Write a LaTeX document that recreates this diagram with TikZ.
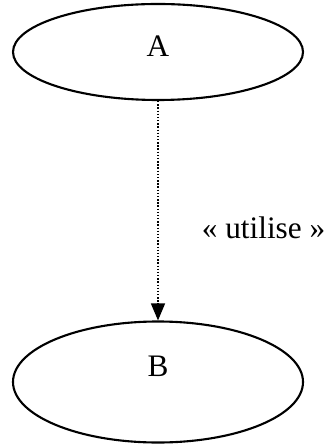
\documentclass[tikz,border=0pt]{standalone}
\usepackage{fontspec}
\setmainfont{Liberation Serif}
\usetikzlibrary{shapes.geometric, arrows.meta}

\begin{document}
\begin{tikzpicture}[auto, >={Triangle[length=0.34cm, width=0.28cm]}]
    \useasboundingbox (0, 0) rectangle (6.64, -8.96);
    \tikzset{usecase/.style={ellipse, draw, line width=1.2pt, minimum width=5.8cm, inner sep=0pt, font=\fontsize{17.8}{21}\selectfont}}

    \node [usecase, minimum height=1.92cm, text depth=0.24cm] (a) at (3.16, -1.04) {A};
    \node [usecase, minimum height=2.42cm, text depth=0.64cm] (b) at (3.16, -7.64) {B};
    \node [anchor=base, font=\fontsize{17.8}{21}\selectfont] (uses) at (5.27, -4.76) {« utilise »};

    \draw [->, line width=0.8pt, dash pattern=on 0.8pt off 1pt] (a) -- (b);
\end{tikzpicture}
\end{document}
